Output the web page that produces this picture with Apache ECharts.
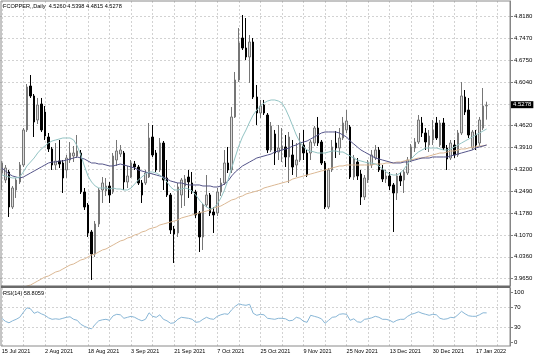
<!DOCTYPE html>
<html><head><meta charset="utf-8">
<script src="https://cdn.jsdelivr.net/npm/echarts@6.0.0/dist/echarts.min.js"></script>
<style>html,body{margin:0;padding:0;background:#fff}#c{width:536px;height:357px}</style>
</head><body><div id="c"></div>
<script>
const categories = [
'15 Jul 2021','16 Jul 2021','19 Jul 2021','20 Jul 2021','21 Jul 2021','22 Jul 2021','23 Jul 2021','26 Jul 2021','27 Jul 2021','28 Jul 2021','29 Jul 2021','30 Jul 2021',
'2 Aug 2021','3 Aug 2021','4 Aug 2021','5 Aug 2021','6 Aug 2021','9 Aug 2021','10 Aug 2021','11 Aug 2021','12 Aug 2021','13 Aug 2021','16 Aug 2021','17 Aug 2021','18 Aug 2021','19 Aug 2021','20 Aug 2021','23 Aug 2021','24 Aug 2021','25 Aug 2021','26 Aug 2021','27 Aug 2021','30 Aug 2021','31 Aug 2021',
'1 Sep 2021','2 Sep 2021','3 Sep 2021','6 Sep 2021','7 Sep 2021','8 Sep 2021','9 Sep 2021','10 Sep 2021','13 Sep 2021','14 Sep 2021','15 Sep 2021','16 Sep 2021','17 Sep 2021','20 Sep 2021','21 Sep 2021','22 Sep 2021','23 Sep 2021','24 Sep 2021','27 Sep 2021','28 Sep 2021','29 Sep 2021','30 Sep 2021',
'1 Oct 2021','4 Oct 2021','5 Oct 2021','6 Oct 2021','7 Oct 2021','8 Oct 2021','11 Oct 2021','12 Oct 2021','13 Oct 2021','14 Oct 2021','15 Oct 2021','18 Oct 2021','19 Oct 2021','20 Oct 2021','21 Oct 2021','22 Oct 2021','25 Oct 2021','26 Oct 2021','27 Oct 2021','28 Oct 2021','29 Oct 2021','31 Oct 2021',
'1 Nov 2021','2 Nov 2021','3 Nov 2021','4 Nov 2021','5 Nov 2021','8 Nov 2021','9 Nov 2021','10 Nov 2021','11 Nov 2021','12 Nov 2021','15 Nov 2021','16 Nov 2021','17 Nov 2021','18 Nov 2021','19 Nov 2021','22 Nov 2021','23 Nov 2021','24 Nov 2021','25 Nov 2021','26 Nov 2021','29 Nov 2021','30 Nov 2021',
'1 Dec 2021','2 Dec 2021','3 Dec 2021','6 Dec 2021','7 Dec 2021','8 Dec 2021','9 Dec 2021','10 Dec 2021','13 Dec 2021','14 Dec 2021','15 Dec 2021','16 Dec 2021','17 Dec 2021','20 Dec 2021','21 Dec 2021','22 Dec 2021','23 Dec 2021','27 Dec 2021','28 Dec 2021','29 Dec 2021','30 Dec 2021','31 Dec 2021',
'3 Jan 2022','4 Jan 2022','5 Jan 2022','6 Jan 2022','7 Jan 2022','10 Jan 2022','11 Jan 2022','12 Jan 2022','13 Jan 2022','14 Jan 2022','17 Jan 2022','18 Jan 2022','19 Jan 2022','20 Jan 2022'];

const opens = [4.3082,4.2855,4.3115,4.1978,4.2530,4.2790,4.3342,4.4479,4.5907,4.5583,
4.4803,4.5323,4.5063,4.4251,4.3862,4.3342,4.3472,4.3407,4.3180,4.3504,
4.3634,4.3634,4.3732,4.2465,4.2043,4.1167,4.0452,4.1426,4.2530,4.2498,
4.2660,4.2465,4.3504,4.3699,4.3732,4.2790,4.2952,4.3374,4.3277,4.2758,
4.2758,4.2952,4.4251,4.3732,4.3180,4.4056,4.2920,4.2368,4.1264,4.1134,
4.2368,4.2660,4.2952,4.2758,4.2465,4.1784,4.1004,4.2043,4.2368,4.1816,
4.1784,4.2465,4.2758,4.3407,4.3180,4.4901,4.6102,4.7466,4.7141,4.6849,
4.7336,4.5550,4.5030,4.5290,4.4965,4.3829,4.4349,4.3764,4.3862,4.3927,
4.3602,4.3667,4.3342,4.3504,4.3991,4.3732,4.3732,4.4056,4.4543,4.4089,
4.3407,4.1978,4.3180,4.4056,4.3894,4.4219,4.4479,4.4576,4.2952,4.3439,
4.3050,4.2303,4.2855,4.3342,4.3569,4.3829,4.3180,4.2887,4.2985,4.2693,
4.2433,4.2985,4.2855,4.3082,4.3504,4.3894,4.4089,4.4706,4.4381,4.3991,
4.4154,4.4706,4.3991,4.4706,4.3894,4.3569,4.3991,4.3667,4.4381,4.5550,
4.5128,4.3894,4.4316,4.4056,4.4543,4.5260];
const highs = [4.3472,4.3342,4.3180,4.2660,4.2920,4.3439,4.4543,4.5972,4.6264,4.5648,
4.5518,4.5518,4.5258,4.4381,4.3927,4.4056,4.4154,4.3504,4.3667,4.4089,
4.3959,4.4316,4.3829,4.2595,4.2108,4.1232,4.1524,4.2595,4.2952,4.2920,
4.2790,4.3732,4.4154,4.3991,4.3797,4.3310,4.3504,4.3472,4.3342,4.2855,
4.3180,4.4706,4.4641,4.3829,4.4219,4.4121,4.3504,4.2433,4.1362,4.2758,
4.2920,4.3017,4.3180,4.3115,4.2530,4.1848,4.2108,4.3017,4.2433,4.1978,
4.2595,4.2920,4.3829,4.3927,4.5225,4.6362,4.7790,4.8213,4.8115,4.7563,
4.7466,4.5940,4.5453,4.5453,4.5030,4.4738,4.4479,4.4641,4.4543,4.4316,
4.4414,4.4154,4.4056,4.4381,4.4479,4.3829,4.4154,4.4608,4.4901,4.4154,
4.3472,4.3245,4.4154,4.4446,4.4543,4.4901,4.5128,4.4641,4.3667,4.3569,
4.3180,4.3017,4.3504,4.3829,4.3991,4.3927,4.3342,4.3180,4.3115,4.2758,
4.3082,4.3115,4.3180,4.3602,4.4024,4.4219,4.4965,4.4901,4.4543,4.4479,
4.4803,4.4901,4.4803,4.4868,4.3991,4.4154,4.4154,4.4479,4.6037,4.5777,
4.5518,4.4479,4.4479,4.4901,4.5842,4.5398];
const lows = [4.2530,4.2758,4.1654,4.1913,4.2271,4.2725,4.3277,4.4414,4.5518,4.4251,
4.4673,4.4414,4.4154,4.3764,4.3180,4.3180,4.3245,4.2433,4.2920,4.3407,
4.3439,4.3569,4.2400,4.1881,4.1004,3.9608,4.0355,4.1329,4.2108,4.2336,
4.2108,4.2400,4.3310,4.3602,4.2530,4.2595,4.2920,4.3180,4.2693,4.2108,
4.2693,4.2920,4.3602,4.3115,4.3115,4.2530,4.2303,4.1102,4.0160,4.1004,
4.1946,4.2011,4.2271,4.2400,4.1621,4.0517,4.0582,4.1978,4.1686,4.1134,
4.1686,4.2336,4.2693,4.3082,4.3082,4.4868,4.6037,4.7076,4.6751,4.6005,
4.5485,4.4641,4.4868,4.4965,4.3732,4.3764,4.3342,4.3504,4.3439,4.3277,
4.2758,4.3017,4.2952,4.3439,4.3504,4.2952,4.3504,4.3959,4.3959,4.3342,
4.1913,4.1913,4.3115,4.3569,4.3667,4.4154,4.4381,4.2887,4.2855,4.2855,
4.2043,4.2206,4.2758,4.3245,4.3504,4.3115,4.2790,4.2758,4.2530,4.1167,
4.2206,4.2660,4.2433,4.3017,4.3439,4.3764,4.4024,4.4251,4.3829,4.3764,
4.3991,4.4154,4.3927,4.3829,4.3180,4.3504,4.3569,4.3602,4.4316,4.4965,
4.4219,4.3829,4.3829,4.3959,4.4479,4.4815];
const closes = [4.3407,4.3245,4.1978,4.2595,4.2855,4.3342,4.4479,4.5875,4.5583,4.4738,
4.5290,4.4479,4.4284,4.3862,4.3342,4.3472,4.3374,4.2920,4.3569,4.3732,
4.3732,4.3797,4.2465,4.1978,4.1134,4.0452,4.1426,4.2530,4.2758,4.2660,
4.2368,4.3634,4.3797,4.3829,4.2790,4.2985,4.3407,4.3277,4.2758,4.2368,
4.3082,4.4219,4.3667,4.3180,4.4056,4.2855,4.2368,4.1232,4.1102,4.2628,
4.2855,4.2887,4.2790,4.2465,4.1719,4.1004,4.2043,4.2368,4.1784,4.1719,
4.2465,4.2758,4.3407,4.3180,4.4901,4.6102,4.7303,4.7141,4.6849,4.7336,
4.5550,4.5030,4.5258,4.5030,4.3829,4.4608,4.3732,4.3894,4.3959,4.3602,
4.4251,4.3277,4.3504,4.4089,4.3732,4.3017,4.4089,4.4543,4.4056,4.3407,
4.1978,4.3180,4.3927,4.3894,4.4219,4.4706,4.4771,4.2952,4.3569,4.2985,
4.2303,4.2920,4.3407,4.3667,4.3829,4.3180,4.2887,4.2985,4.2660,4.2433,
4.2985,4.2823,4.3115,4.3504,4.3927,4.4089,4.4803,4.4381,4.4089,4.4284,
4.4479,4.4219,4.4706,4.3894,4.3537,4.4056,4.3667,4.4381,4.5583,4.5063,
4.4316,4.4414,4.3991,4.4803,4.5258,4.5278];

const maFast = [4.3017,4.2985,4.2952,4.2920,4.2920,4.2952,4.3115,4.3310,4.3439,4.3569,
4.3732,4.3862,4.3959,4.4056,4.4121,4.4154,4.4186,4.4219,4.4219,4.4219,
4.4154,4.3959,4.3667,4.3310,4.2985,4.2790,4.2660,4.2595,4.2595,4.2595,
4.2563,4.2595,4.2563,4.2563,4.2530,4.2530,4.2595,4.2725,4.2855,4.2952,
4.3050,4.3115,4.3115,4.3082,4.3017,4.2920,4.2790,4.2628,4.2530,4.2530,
4.2563,4.2595,4.2563,4.2498,4.2368,4.2206,4.2076,4.1978,4.1913,4.1946,
4.2076,4.2271,4.2530,4.2855,4.3245,4.3602,4.3959,4.4251,4.4479,4.4738,
4.4965,4.5128,4.5258,4.5355,4.5420,4.5453,4.5453,4.5420,4.5355,4.5160,
4.4901,4.4608,4.4316,4.4089,4.3927,4.3829,4.3797,4.3764,4.3732,4.3732,
4.3732,4.3764,4.3797,4.3797,4.3764,4.3764,4.3699,4.3634,4.3569,4.3504,
4.3472,4.3439,4.3407,4.3407,4.3374,4.3310,4.3212,4.3115,4.3050,4.3017,
4.3017,4.3082,4.3212,4.3374,4.3537,4.3667,4.3764,4.3829,4.3894,4.3894,
4.3894,4.3894,4.3862,4.3829,4.3829,4.3862,4.3927,4.3991,4.4056,4.4121,
4.4186,4.4251,4.4316,4.4381,4.4446,4.4511];
const maMid = [4.3245,4.3147,4.3050,4.2985,4.2952,4.2920,4.2952,4.3017,4.3082,4.3147,
4.3212,4.3277,4.3342,4.3407,4.3439,4.3439,4.3472,4.3472,4.3504,4.3537,
4.3569,4.3602,4.3569,4.3537,4.3472,4.3407,4.3407,4.3374,4.3374,4.3342,
4.3310,4.3310,4.3342,4.3374,4.3342,4.3310,4.3277,4.3245,4.3180,4.3147,
4.3115,4.3082,4.3050,4.3017,4.2985,4.2952,4.2887,4.2823,4.2790,4.2758,
4.2758,4.2725,4.2693,4.2693,4.2693,4.2693,4.2660,4.2660,4.2660,4.2628,
4.2628,4.2660,4.2725,4.2823,4.2985,4.3115,4.3212,4.3310,4.3374,4.3439,
4.3504,4.3569,4.3602,4.3634,4.3667,4.3699,4.3764,4.3797,4.3829,4.3862,
4.3894,4.3959,4.3991,4.4056,4.4089,4.4121,4.4186,4.4251,4.4316,4.4381,
4.4414,4.4414,4.4414,4.4414,4.4381,4.4316,4.4251,4.4121,4.4024,4.3927,
4.3829,4.3764,4.3699,4.3634,4.3569,4.3537,4.3504,4.3472,4.3439,4.3407,
4.3407,4.3407,4.3439,4.3439,4.3472,4.3504,4.3537,4.3569,4.3569,4.3569,
4.3602,4.3602,4.3602,4.3602,4.3602,4.3634,4.3667,4.3699,4.3732,4.3764,
4.3797,4.3829,4.3894,4.3927,4.3959,4.3991];
const maSlow = [3.8991,3.9056,3.9121,3.9186,3.9218,3.9283,3.9348,3.9413,3.9445,3.9510,
3.9575,3.9640,3.9705,3.9738,3.9803,3.9868,3.9900,3.9965,4.0030,4.0095,
4.0128,4.0193,4.0258,4.0290,4.0355,4.0420,4.0452,4.0517,4.0582,4.0615,
4.0680,4.0745,4.0810,4.0875,4.0907,4.0972,4.1004,4.1069,4.1102,4.1167,
4.1199,4.1264,4.1297,4.1329,4.1394,4.1426,4.1459,4.1491,4.1524,4.1556,
4.1621,4.1654,4.1686,4.1719,4.1751,4.1784,4.1816,4.1848,4.1881,4.1946,
4.1978,4.2011,4.2076,4.2141,4.2206,4.2238,4.2303,4.2336,4.2400,4.2433,
4.2465,4.2498,4.2530,4.2595,4.2628,4.2660,4.2693,4.2725,4.2758,4.2790,
4.2823,4.2887,4.2920,4.2952,4.2985,4.3017,4.3050,4.3082,4.3115,4.3147,
4.3180,4.3212,4.3245,4.3277,4.3310,4.3310,4.3342,4.3342,4.3342,4.3342,
4.3342,4.3342,4.3342,4.3342,4.3374,4.3374,4.3374,4.3407,4.3407,4.3407,
4.3439,4.3439,4.3472,4.3504,4.3504,4.3537,4.3569,4.3569,4.3602,4.3634,
4.3667,4.3699,4.3732,4.3732,4.3764,4.3797,4.3797,4.3829,4.3862,4.3862,
4.3894,4.3927,4.3927,4.3959,4.3959,4.3991];

const rsi = [48,42,39,43,46,50,60,69,67,58, 61,57,54,49,46,47,46,48,50,51,
46,44,36,32,29,27,36,43,45,46, 44,53,56,55,48,50,52,50,46,43,
46,59,52,50,55,46,43,38,39,46, 50,49,48,46,40,41,46,50,47,46,
52,55,57,56,65,72,77,75,74,76, 58,54,56,55,48,47,46,48,48,47,
43,44,50,48,42,40,54,52,50,47, 38,44,50,51,56,57,56,44,47,41,
40,46,47,49,52,50,46,46,44,40, 44,46,46,52,56,58,61,58,56,54,
56,55,48,46,47,50,49,55,62,57, 53,52,52,55,59,58.8059];

const priceTicks = [3.9650,4.0360,4.1070,4.1780,4.2490,4.3200,4.3910,4.4620,4.5330,4.6040,4.6750,4.7470,4.8180];
const priceLabelTicks = [3.9650,4.0360,4.1070,4.1780,4.2490,4.3200,4.3910,4.4620,4.6040,4.6750,4.7470,4.8180];
const rsiTicks = [0,30,70,100];
const rsiLevels = [70,30];
const lastPrice = 4.5278;
const headerText = 'FCOPPER,,Daily  4.5260 4.5398 4.4815 4.5278';
const rsiTitle = 'RSI(14) 58.8059';

const FONT = 'Liberation Sans, Arial, sans-serif';
const pad = ['', ' ', '  ', '   ', '    ', '     '];
const axisCats = categories.concat(pad);
const ohlc = opens.map((o, i) => [o, closes[i], lows[i], highs[i]]);
const gridLine = {color: '#d2d2d2', type: [2, 2], width: 1};

const chart = echarts.init(document.getElementById('c'), null, {renderer: 'canvas'});
chart.setOption({
  animation: false,
  backgroundColor: '#ffffff',
  grid: [
    {left: 0, top: 1, width: 510, height: 285, outerBoundsMode: 'none', containLabel: false},
    {left: 0, top: 288, width: 510, height: 58, outerBoundsMode: 'none', containLabel: false}
  ],
  xAxis: [
    {type: 'category', gridIndex: 0, data: axisCats, boundaryGap: true,
     axisLine: {show: false}, axisTick: {show: false, interval: 5, alignWithLabel: true},
     axisLabel: {show: false},
     splitLine: {show: true, interval: 5, alignWithLabel: true, lineStyle: gridLine}},
    {type: 'category', gridIndex: 1, data: axisCats, boundaryGap: true,
     axisLine: {show: false}, axisTick: {show: false, interval: 5, alignWithLabel: true},
     axisLabel: {show: true, interval: 11, align: 'left', fontSize: 5.5, fontFamily: FONT, color: '#000', margin: 2},
     splitLine: {show: true, interval: 5, alignWithLabel: true, lineStyle: gridLine}}
  ],
  yAxis: [
    {type: 'value', gridIndex: 0, position: 'right', min: 3.94129, max: 4.86671, scale: true,
     axisLine: {show: true, lineStyle: {color: '#808080', width: 1}},
     axisTick: {show: true, customValues: priceTicks, length: 3, lineStyle: {color: '#808080'}},
     axisLabel: {show: true, customValues: priceLabelTicks, formatter: v => Number(v).toFixed(4), fontSize: 6, fontFamily: FONT, color: '#000', margin: 4},
     splitLine: {show: true, lineStyle: gridLine}},
    {type: 'value', gridIndex: 1, position: 'right', min: -7.4, max: 108.6,
     axisLine: {show: true, lineStyle: {color: '#808080', width: 1}},
     axisTick: {show: true, customValues: rsiTicks, length: 3, lineStyle: {color: '#808080'}},
     axisLabel: {show: true, customValues: rsiTicks, fontSize: 6, fontFamily: FONT, color: '#000', margin: 4},
     splitLine: {show: false}}
  ],
  series: [
    {type: 'candlestick', xAxisIndex: 0, yAxisIndex: 0, data: ohlc, barWidth: 2,
     itemStyle: {color: '#dcdcdc', color0: '#000000', borderColor: '#767676', borderColor0: '#000000', borderWidth: 1},
     markLine: {symbol: 'none', silent: true, animation: false,
       lineStyle: {color: 'rgba(0,0,0,0)', width: 0},
       label: {show: true, position: 'end', formatter: lastPrice.toFixed(4), color: '#fff', backgroundColor: '#000',
               padding: [1, 2, 0, 2], fontSize: 6, fontFamily: FONT, distance: 1},
       data: [{yAxis: lastPrice}]}},
    {type: 'line', xAxisIndex: 0, yAxisIndex: 0, data: maSlow, showSymbol: false, lineStyle: {color: '#dbb894', width: 1}},
    {type: 'line', xAxisIndex: 0, yAxisIndex: 0, data: maMid, showSymbol: false, lineStyle: {color: '#55558a', width: 1}},
    {type: 'line', xAxisIndex: 0, yAxisIndex: 0, data: maFast, showSymbol: false, lineStyle: {color: '#93c4c4', width: 1}},
    {type: 'line', xAxisIndex: 1, yAxisIndex: 1, data: rsi, showSymbol: false, lineStyle: {color: '#88b6d6', width: 1},
     markLine: {symbol: 'none', silent: true, label: {show: false}, lineStyle: gridLine,
       data: rsiLevels.map(v => ({yAxis: v}))}}
  ],
  graphic: [
    {type: 'rect', z: 100, shape: {x: 1, y: 1, width: 509, height: 345}, style: {fill: 'none', stroke: '#8a8a8a', lineWidth: 1}},
    {type: 'rect', z: 100, shape: {x: 1, y: 285.5, width: 509, height: 2.5}, style: {fill: '#6a6a6a'}},
    {type: 'text', z: 100, left: 3, top: 3, style: {text: headerText, fontSize: 5.6, fontFamily: FONT, fill: '#000'}},
    {type: 'text', z: 100, left: 3, top: 290.5, style: {text: rsiTitle, fontSize: 5.6, fontFamily: FONT, fill: '#000'}}
  ]
});
</script></body></html>
